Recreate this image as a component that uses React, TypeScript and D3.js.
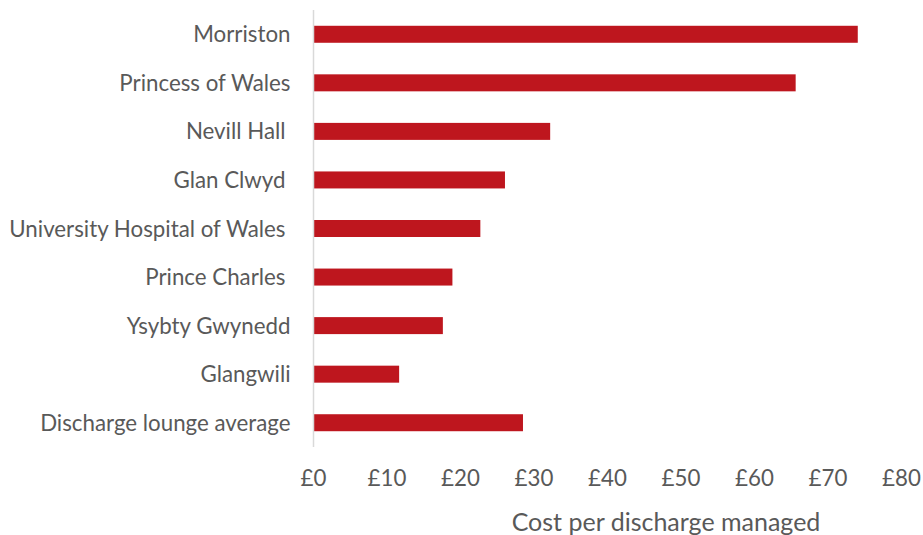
import React from "react";
import * as d3 from "d3";

const categories = [
  "Morriston",
  "Princess of Wales",
  "Nevill Hall ",
  "Glan Clwyd ",
  "University Hospital of Wales ",
  "Prince Charles ",
  "Ysybty Gwynedd",
  "Glangwili",
  "Discharge lounge average",
];
const values = [74.05, 65.6, 32.2, 26.05, 22.7, 18.9, 17.6, 11.65, 28.5];
const tickValues = [0, 10, 20, 30, 40, 50, 60, 70, 80];
const axisTitle = "Cost per discharge managed";

const W = 923;
const H = 535;
const FONT = "Lato, 'Open Sans', sans-serif";
const TEXT = "#595959";

export default function App() {
  const x = d3.scaleLinear().domain([0, 80]).range([313.5, 901.5]);
  const y = d3
    .scaleBand<string>()
    .domain(categories)
    .range([10, 447])
    .paddingInner(0.65)
    .paddingOuter(0.325);
  const bw = y.bandwidth();
  const fmt = (v: number) => `£${v}`;
  const trailing = (c: string) => (c.endsWith(" ") ? 5 : 0);

  return (
    <svg
      width={W}
      height={H}
      style={{ position: "absolute", left: 0, top: 0, background: "#fff" }}
      fontFamily={FONT}
    >
      {categories.map((c, i) => (
        <rect
          key={c}
          x={x(0)}
          y={y(c)!}
          width={x(values[i]) - x(0)}
          height={bw}
          fill="#BE161E"
        />
      ))}
      <line x1={313.5} x2={313.5} y1={10} y2={447} stroke="#D9D9D9" strokeWidth={1.5} />
      {categories.map((c) => (
        <text
          key={c}
          x={290.5 - trailing(c)}
          y={y(c)! + bw / 2 + 8}
          textAnchor="end"
          fontSize={22.3}
          fill={TEXT}
        >
          {c.trim()}
        </text>
      ))}
      {tickValues.map((t) => (
        <text key={t} x={x(t)} y={486} textAnchor="middle" fontSize={22.3} fill={TEXT}>
          {fmt(t)}
        </text>
      ))}
      <text x={666} y={531} textAnchor="middle" fontSize={25} fill={TEXT}>
        {axisTitle}
      </text>
    </svg>
  );
}
